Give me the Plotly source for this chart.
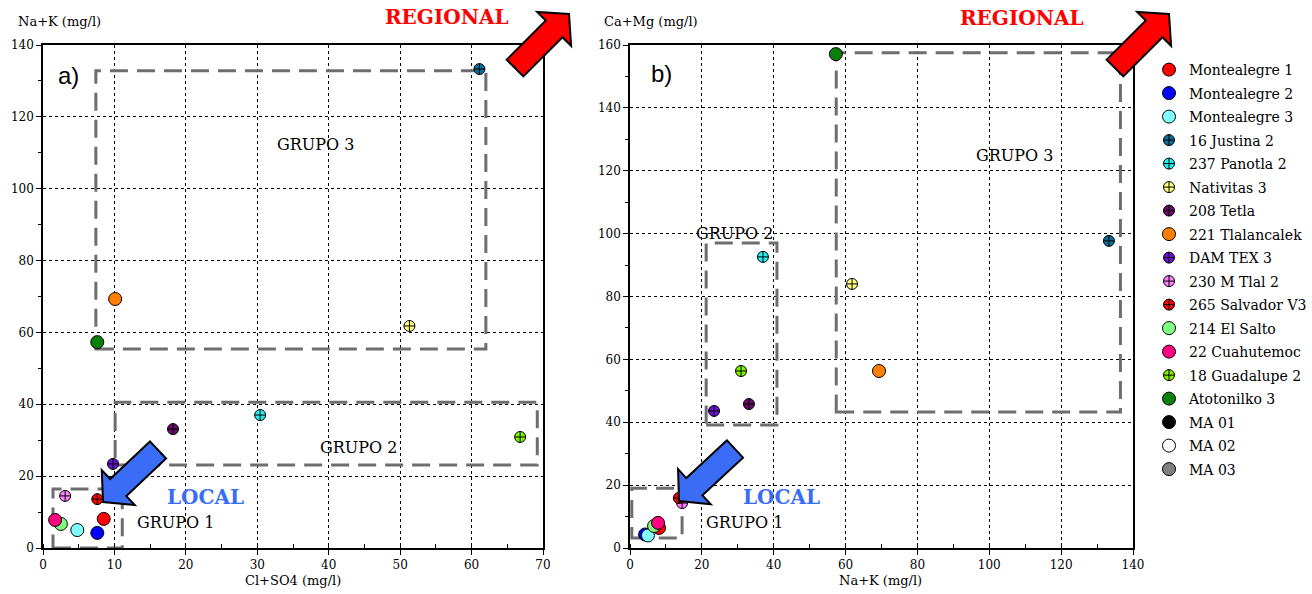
import numpy as np
import plotly.graph_objects as go

W, H = 1312, 594

# Stations: name, fill colour, symbol
stations = ["Montealegre 1", "Montealegre 2", "Montealegre 3", "16 Justina 2",
            "237 Panotla 2", "Nativitas 3", "208 Tetla", "221 Tlalancalek",
            "DAM TEX 3", "230 M Tlal 2", "265 Salvador V3", "214 El Salto",
            "22 Cuahutemoc", "18 Guadalupe 2", "Atotonilko 3", "MA 01", "MA 02", "MA 03"]
colors = ["#ff0000", "#0000ff", "#80ffff", "#0a6e9a", "#20f0f0", "#ffff80",
          "#6a0a6a", "#ff8000", "#6a10d0", "#ff80ff", "#ff0000", "#80ff80",
          "#ff0080", "#80f000", "#0a800a", "#000000", "#ffffff", "#808080"]
symbols = ["circle", "circle", "circle", "circle-cross", "circle-cross", "circle-cross",
           "circle-cross", "circle", "circle-cross", "circle-cross", "circle-cross",
           "circle", "circle", "circle-cross", "circle", "circle", "circle", "circle"]

# Concentrations (mg/l)
cl_so4 = [8.5, 7.6, 4.8, 61.1, 30.4, 51.3, 18.2, 10.1, 9.8, 3.1, 7.6, 2.5, 1.7, 66.8, 7.6,
          None, None, None]
na_k = [8.1, 4.2, 5.0, 133.3, 37.0, 61.8, 33.1, 69.3, 23.4, 14.5, 13.6, 6.7, 7.8, 30.9, 57.3,
        None, None, None]
ca_mg = [6.4, 4.3, 4.0, 97.7, 92.6, 84.0, 45.8, 56.3, 43.6, 14.3, 15.9, 7.0, 8.0, 56.3, 157.1,
         None, None, None]

# Group boxes: (x0, x1, y0, y1)
groups_a = {"GRUPO 1": (1.4, 11.1, 0.0, 16.4),
            "GRUPO 2": (10.1, 69.2, 23.1, 40.6),
            "GRUPO 3": (7.4, 62.0, 55.4, 132.8)}
groups_b = {"GRUPO 1": (0.5, 14.5, 3.2, 19.0),
            "GRUPO 2": (21.2, 40.9, 39.1, 97.0),
            "GRUPO 3": (57.4, 136.5, 43.3, 157.5)}

SERIF = "DejaVu Serif"

fig = go.Figure()
for i, name in enumerate(stations):
    size = 13 if symbols[i] == "circle" else 11
    mk = dict(color=colors[i], symbol=symbols[i], size=size,
              line=dict(color="black", width=1))
    fig.add_trace(go.Scatter(x=[cl_so4[i]], y=[na_k[i]], mode="markers", name=name,
                             legendgroup=name, marker=mk, xaxis="x", yaxis="y",
                             cliponaxis=False))
    fig.add_trace(go.Scatter(x=[na_k[i]], y=[ca_mg[i]], mode="markers", name=name,
                             legendgroup=name, showlegend=False, marker=mk,
                             xaxis="x2", yaxis="y2", cliponaxis=False))

def px(x):
    return x / W

def py(y):
    return 1 - y / H

axis_common = dict(showline=True, mirror=True, linecolor="black", linewidth=1.5,
                   showgrid=True, gridcolor="black", gridwidth=1, griddash="3px,3px",
                   zeroline=False, ticks="outside", ticklen=5, tickcolor="black",
                   automargin=False,
                   tickfont=dict(family=SERIF, size=12, color="black"))

ydom = [py(548), py(45)]
fig.update_layout(
    width=W, height=H, margin=dict(l=0, r=0, t=0, b=0, autoexpand=False),
    paper_bgcolor="white", plot_bgcolor="white",
    xaxis=dict(domain=[px(43), px(543)], range=[0, 70], dtick=10, anchor="y",
               minor=dict(dtick=5, ticks="inside", ticklen=4, tickcolor="black", showgrid=False),
               **axis_common),
    yaxis=dict(domain=ydom, range=[0, 140], dtick=20, anchor="x",
               minor=dict(dtick=10, ticks="outside", ticklen=3, tickcolor="black", showgrid=False),
               **axis_common),
    xaxis2=dict(domain=[px(630), px(1133)], range=[0, 140], dtick=20, anchor="y2",
                minor=dict(dtick=10, ticks="inside", ticklen=4, tickcolor="black", showgrid=False),
                **axis_common),
    yaxis2=dict(domain=ydom, range=[0, 160], dtick=20, anchor="x2",
                minor=dict(dtick=10, ticks="outside", ticklen=3, tickcolor="black", showgrid=False),
                **axis_common),
    showlegend=True,
    legend=dict(x=px(1149), y=py(54), xanchor="left", yanchor="top",
                font=dict(family=SERIF, size=14, color="black"),
                traceorder="grouped", tracegroupgap=2.3, itemwidth=30,
                bgcolor="rgba(0,0,0,0)"),
)

# Dashed group boxes
for gset, xr, yr in ((groups_a, "x", "y"), (groups_b, "x2", "y2")):
    for label, (x0, x1, y0, y1) in gset.items():
        fig.add_shape(type="rect", xref=xr, yref=yr, x0=x0, x1=x1, y0=y0, y1=y1,
                      line=dict(color="#6e6e6e", width=3, dash="18px,9px"),
                      layer="between")

# Block arrows (pixel geometry converted to paper coordinates)
def block_arrow(tail, tip, shaft_hw, head_hw, head_len):
    t = np.array(tail, float)
    p = np.array(tip, float)
    u = (p - t) / np.linalg.norm(p - t)
    n = np.array([-u[1], u[0]])
    b = p - u * head_len
    pts = [t + n * shaft_hw, b + n * shaft_hw, b + n * head_hw, p,
           b - n * head_hw, b - n * shaft_hw, t - n * shaft_hw]
    return "M " + " L ".join(f"{px(q[0]):.5f},{py(q[1]):.5f}" for q in pts) + " Z"

arrows = [((158, 450), (103, 502), "#3a6cf5"),
          ((735, 449), (679, 501), "#3a6cf5"),
          ((515, 68), (569, 14), "#ff0000"),
          ((1115, 68), (1169, 14), "#ff0000")]
for tail, tip, col in arrows:
    fig.add_shape(type="path", xref="paper", yref="paper",
                  path=block_arrow(tail, tip, 11.8, 24, 21),
                  fillcolor=col, line=dict(color="black", width=2), layer="above")

def text(x, y, s, xref, yref, size, color="black", bold=False, family=SERIF,
         xanchor="center"):
    fig.add_annotation(x=x, y=y, xref=xref, yref=yref, text=f"<b>{s}</b>" if bold else s,
                       showarrow=False, xanchor=xanchor, yanchor="middle",
                       font=dict(family=family, size=size, color=color))

# Group labels
text(38.2, 112.4, "GRUPO 3", "x", "y", 16)
text(44.1, 28.1, "GRUPO 2", "x", "y", 16)
text(18.6, 7.0, "GRUPO 1", "x", "y", 16)
text(107.0, 124.7, "GRUPO 3", "x2", "y2", 16)
text(29.0, 100.2, "GRUPO 2", "x2", "y2", 16)
text(31.8, 8.0, "GRUPO 1", "x2", "y2", 16)

# Flow labels
text(22.8, 14.2, "LOCAL", "x", "y", 20, color="#3a6cf5", bold=True)
text(42.3, 16.2, "LOCAL", "x2", "y2", 20, color="#3a6cf5", bold=True)
text(px(447), py(17), "REGIONAL", "paper", "paper", 20, color="#ff0000", bold=True)
text(px(1022), py(18), "REGIONAL", "paper", "paper", 20, color="#ff0000", bold=True)

# Panel letters
text(3.5, 131.6, "a)", "x", "y", 24, family="Liberation Sans")
text(8.9, 150.8, "b)", "x2", "y2", 24, family="Liberation Sans")

# Axis titles
text(px(16), py(22), "Na+K (mg/l)", "paper", "paper", 13, xanchor="left")
text(px(602), py(22), "Ca+Mg (mg/l)", "paper", "paper", 13, xanchor="left")
text(px(293), py(580), "Cl+SO4 (mg/l)", "paper", "paper", 13)
text(px(880), py(580), "Na+K (mg/l)", "paper", "paper", 13)

fig.write_html("out.html")
